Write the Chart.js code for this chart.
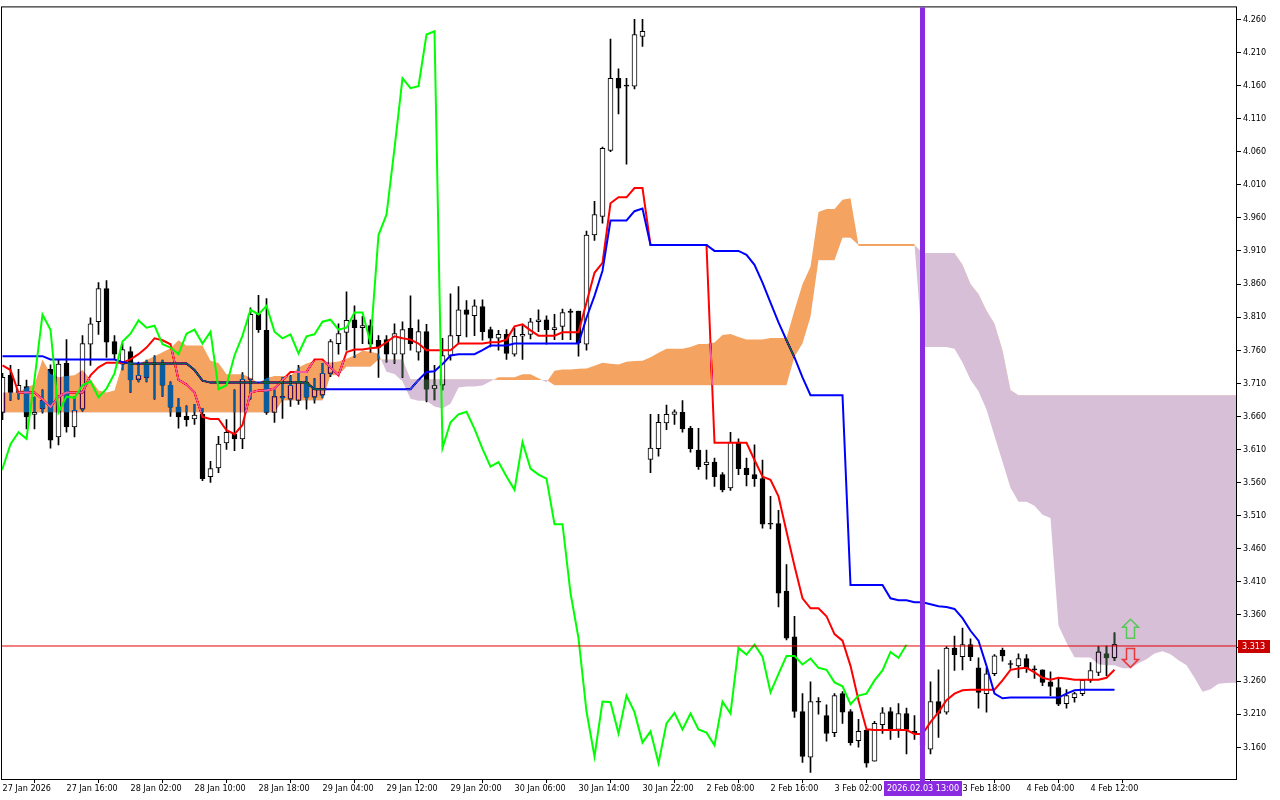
<!DOCTYPE html>
<html>
<head>
<meta charset="utf-8">
<title>NG H2 Ichimoku</title>
<script src="https://cdn.jsdelivr.net/npm/chart.js@4.4.1/dist/chart.umd.min.js"></script>
<style>
  html, body { margin: 0; padding: 0; background: #fff; }
  #wrap { width: 1280px; height: 800px; }
</style>
</head>
<body>
<div id="wrap"><canvas id="myChart" width="1280" height="800"></canvas></div>
<script>
// time axis labels (one every 8 bars)
const timeLabels = ["27 Jan 2026", "27 Jan 16:00", "28 Jan 02:00", "28 Jan 10:00", "28 Jan 18:00",
  "29 Jan 04:00", "29 Jan 12:00", "29 Jan 20:00", "30 Jan 06:00", "30 Jan 14:00", "30 Jan 22:00",
  "2 Feb 08:00", "2 Feb 16:00", "3 Feb 02:00", "3 Feb 10:00", "3 Feb 18:00", "4 Feb 04:00", "4 Feb 12:00"];
const timeLabelBars = [0, 8, 16, 24, 32, 40, 48, 56, 64, 72, 80, 88, 96, 104, 112, 120, 128, 136];

const priceTicks = [3.160, 3.210, 3.260, 3.310, 3.360, 3.410, 3.460, 3.510, 3.560, 3.610, 3.660, 3.710,
  3.760, 3.810, 3.860, 3.910, 3.960, 4.010, 4.060, 4.110, 4.160, 4.210, 4.260];

const opens = [3.666,3.722,3.696,3.705,3.663,3.684,3.731,3.629,3.740,3.644,
  3.671,3.769,3.803,3.853,3.773,3.739,3.758,3.716,3.739,3.738,
  3.739,3.707,3.674,3.660,3.656,3.663,3.569,3.582,3.620,3.633,
  3.626,3.716,3.814,3.790,3.666,3.690,3.686,3.684,3.711,3.689,
  3.692,3.725,3.770,3.787,3.806,3.794,3.797,3.775,3.776,3.754,
  3.754,3.793,3.757,3.788,3.702,3.707,3.752,3.782,3.821,3.812,
  3.826,3.791,3.778,3.784,3.754,3.781,3.784,3.803,3.806,3.791,
  3.796,3.819,3.819,3.769,3.934,3.962,4.062,4.171,4.160,4.159,
  4.234,3.595,3.611,3.650,3.663,3.666,3.642,3.609,3.587,3.591,
  3.572,3.552,3.621,3.582,3.572,3.566,3.498,3.498,3.396,3.327,
  3.214,3.145,3.229,3.208,3.182,3.241,3.214,3.170,3.186,3.139,
  3.194,3.214,3.187,3.211,3.184,3.182,3.157,3.229,3.213,3.310,
  3.297,3.315,3.280,3.241,3.271,3.307,3.286,3.283,3.294,3.278,
  3.277,3.259,3.250,3.226,3.235,3.241,3.261,3.273,3.301,3.295];
const highs = [3.725,3.737,3.731,3.715,3.689,3.700,3.738,3.746,3.776,3.690,
  3.782,3.809,3.862,3.865,3.782,3.770,3.765,3.742,3.745,3.752,
  3.745,3.712,3.687,3.676,3.678,3.672,3.592,3.630,3.655,3.700,
  3.726,3.824,3.843,3.838,3.700,3.719,3.722,3.737,3.720,3.717,
  3.740,3.776,3.800,3.848,3.827,3.811,3.806,3.782,3.782,3.800,
  3.803,3.842,3.806,3.799,3.737,3.778,3.845,3.856,3.835,3.836,
  3.836,3.795,3.790,3.791,3.793,3.799,3.808,3.821,3.812,3.814,
  3.822,3.822,3.819,3.940,3.985,4.067,4.230,4.185,4.171,4.260,
  4.260,3.663,3.663,3.677,3.670,3.684,3.645,3.642,3.609,3.597,
  3.575,3.636,3.626,3.597,3.617,3.594,3.539,3.518,3.436,3.358,
  3.241,3.259,3.235,3.224,3.241,3.244,3.217,3.202,3.186,3.199,
  3.220,3.220,3.226,3.219,3.208,3.200,3.259,3.277,3.312,3.328,
  3.340,3.324,3.295,3.280,3.300,3.310,3.291,3.301,3.300,3.283,
  3.277,3.274,3.265,3.247,3.243,3.262,3.288,3.312,3.313,3.333];
const lows = [3.655,3.684,3.686,3.641,3.641,3.665,3.612,3.617,3.636,3.629,
  3.668,3.737,3.784,3.749,3.746,3.730,3.696,3.712,3.712,3.686,
  3.690,3.660,3.642,3.645,3.648,3.563,3.560,3.575,3.610,3.608,
  3.611,3.686,3.787,3.663,3.651,3.657,3.675,3.678,3.671,3.680,
  3.688,3.720,3.754,3.760,3.749,3.770,3.757,3.719,3.742,3.740,
  3.719,3.760,3.745,3.682,3.685,3.700,3.745,3.770,3.780,3.782,
  3.775,3.765,3.760,3.746,3.751,3.746,3.777,3.788,3.769,3.776,
  3.776,3.776,3.751,3.760,3.926,3.952,4.060,4.117,4.041,4.155,
  4.219,3.575,3.600,3.640,3.648,3.636,3.606,3.580,3.565,3.554,
  3.546,3.548,3.572,3.555,3.554,3.491,3.490,3.372,3.322,3.205,
  3.137,3.122,3.210,3.169,3.176,3.196,3.163,3.160,3.130,3.139,
  3.181,3.172,3.175,3.150,3.172,3.145,3.150,3.175,3.210,3.276,
  3.277,3.291,3.219,3.213,3.268,3.290,3.279,3.265,3.273,3.264,
  3.253,3.238,3.223,3.219,3.228,3.238,3.258,3.268,3.268,3.291];
const closes = [3.719,3.696,3.707,3.659,3.666,3.672,3.624,3.739,3.644,3.669,
  3.770,3.800,3.853,3.772,3.754,3.761,3.715,3.722,3.719,3.740,
  3.707,3.674,3.659,3.655,3.662,3.566,3.581,3.618,3.636,3.626,
  3.716,3.814,3.791,3.666,3.690,3.688,3.707,3.713,3.689,3.702,
  3.725,3.773,3.785,3.805,3.794,3.797,3.769,3.764,3.754,3.785,
  3.791,3.770,3.788,3.701,3.707,3.752,3.782,3.821,3.814,3.827,
  3.788,3.778,3.784,3.755,3.781,3.784,3.803,3.806,3.791,3.794,
  3.817,3.817,3.771,3.934,3.965,4.065,4.171,4.156,4.159,4.237,
  4.242,3.612,3.651,3.663,3.667,3.641,3.611,3.584,3.591,3.569,
  3.549,3.621,3.581,3.572,3.566,3.497,3.497,3.393,3.325,3.214,
  3.146,3.229,3.228,3.181,3.238,3.213,3.167,3.184,3.136,3.196,
  3.212,3.187,3.211,3.187,3.182,3.163,3.229,3.211,3.310,3.300,
  3.315,3.297,3.243,3.271,3.298,3.298,3.285,3.294,3.280,3.277,
  3.258,3.252,3.225,3.238,3.241,3.261,3.276,3.304,3.295,3.315];

// ichimoku lines
const tenkan = [3.737,3.730,3.696,3.696,3.696,3.686,3.674,3.690,3.696,3.696,
  3.696,3.722,3.734,3.741,3.741,3.741,3.746,3.754,3.764,3.778,
  3.775,3.769,3.715,3.708,3.696,3.659,3.656,3.656,3.639,3.633,
  3.647,3.696,3.699,3.699,3.702,3.715,3.727,3.727,3.727,3.746,
  3.746,3.734,3.722,3.757,3.761,3.761,3.763,3.764,3.772,3.781,
  3.778,3.776,3.770,3.760,3.760,3.760,3.760,3.770,3.770,3.770,
  3.770,3.772,3.772,3.776,3.796,3.799,3.790,3.782,3.782,3.782,
  3.787,3.787,3.787,3.832,3.877,3.892,3.982,3.991,3.991,4.005,
  4.005,3.919,3.919,3.919,3.919,3.919,3.919,3.919,3.919,3.620,
  3.620,3.620,3.620,3.620,3.594,3.569,3.564,3.539,3.486,3.434,
  3.385,3.370,3.370,3.358,3.331,3.321,3.283,3.231,3.187,3.186,
  3.186,3.186,3.186,3.186,3.180,3.180,3.198,3.213,3.231,3.241,
  3.246,3.247,3.247,3.247,3.247,3.261,3.277,3.279,3.280,3.273,
  3.265,3.262,3.265,3.264,3.262,3.262,3.262,3.262,3.265,3.277];
const kijun = [3.751,3.751,3.751,3.751,3.751,3.751,3.746,3.746,3.746,3.746,
  3.746,3.746,3.746,3.746,3.746,3.742,3.740,3.740,3.740,3.740,
  3.740,3.740,3.740,3.740,3.730,3.714,3.711,3.711,3.711,3.711,
  3.711,3.711,3.711,3.711,3.711,3.711,3.711,3.711,3.711,3.701,
  3.701,3.701,3.701,3.701,3.701,3.701,3.701,3.701,3.701,3.701,
  3.701,3.701,3.715,3.727,3.728,3.739,3.752,3.754,3.754,3.754,
  3.760,3.767,3.767,3.767,3.770,3.770,3.770,3.770,3.770,3.770,
  3.770,3.770,3.770,3.809,3.842,3.880,3.956,3.956,3.956,3.970,
  3.974,3.919,3.919,3.919,3.919,3.919,3.919,3.919,3.919,3.910,
  3.910,3.910,3.910,3.904,3.889,3.862,3.832,3.802,3.775,3.749,
  3.719,3.692,3.692,3.692,3.692,3.692,3.405,3.405,3.405,3.405,
  3.405,3.385,3.382,3.382,3.379,3.379,3.376,3.373,3.372,3.369,
  3.355,3.336,3.321,3.283,3.241,3.234,3.235,3.235,3.235,3.235,
  3.235,3.235,3.235,3.241,3.246,3.247,3.247,3.247,3.247,3.247];
const spanA = [3.696,3.696,3.696,3.704,3.708,3.746,3.724,3.719,3.721,3.722,
  3.730,3.716,3.699,3.696,3.699,3.739,3.742,3.739,3.745,3.751,
  3.757,3.763,3.775,3.767,3.767,3.767,3.744,3.7405,3.7235,3.7235,
  3.7235,3.7185,3.710,3.718,3.721,3.721,3.721,3.734,3.740,3.7435,
  3.7435,3.7415,3.743,3.747,3.752,3.759,3.7575,3.7545,3.7275,3.724,
  3.713,3.6865,3.6835,3.6835,3.675,3.672,3.679,3.7035,3.705,3.705,
  3.7065,3.713,3.719,3.719,3.719,3.7235,3.7235,3.7175,3.7115,3.729,
  3.731,3.731,3.732,3.7325,3.7365,3.741,3.7395,3.7385,3.7425,3.7435,
  3.744,3.7495,3.756,3.762,3.762,3.762,3.765,3.7695,3.7695,3.7715,
  3.783,3.7845,3.780,3.776,3.776,3.776,3.7785,3.7785,3.7785,3.8205,
  3.8595,3.886,3.969,3.9735,3.9735,3.9875,3.9895,3.919,3.919,3.919,
  3.919,3.919,3.919,3.919,3.919,3.765,3.765,3.765,3.765,3.762,
  3.7415,3.7155,3.698,3.6705,3.6305,3.5915,3.552,3.531,3.531,3.525,
  3.5115,3.5065,3.344,3.318,3.296,3.2955,3.2955,3.2855,3.284,3.284,
  3.2795,3.2795,3.287,3.293,3.3015,3.305,3.3005,3.2915,3.284,3.265,
  3.244,3.2475,3.256,3.257,3.2575,3.254];
const spanB = [3.666,3.666,3.666,3.666,3.666,3.666,3.666,3.666,3.666,3.666,
  3.666,3.666,3.666,3.666,3.666,3.666,3.666,3.666,3.666,3.666,
  3.666,3.666,3.666,3.666,3.666,3.666,3.666,3.666,3.666,3.666,
  3.666,3.666,3.666,3.666,3.666,3.684,3.684,3.684,3.684,3.684,
  3.684,3.722,3.722,3.735,3.735,3.735,3.735,3.746,3.746,3.746,
  3.746,3.716,3.716,3.716,3.716,3.716,3.716,3.716,3.716,3.716,
  3.716,3.716,3.715,3.715,3.715,3.715,3.715,3.715,3.715,3.707,
  3.707,3.707,3.707,3.707,3.707,3.707,3.707,3.707,3.707,3.707,
  3.707,3.707,3.707,3.707,3.707,3.707,3.707,3.707,3.707,3.707,
  3.707,3.707,3.707,3.707,3.707,3.707,3.707,3.707,3.707,3.750,
  3.770,3.810,3.896,3.896,3.896,3.930,3.930,3.919,3.919,3.919,
  3.919,3.919,3.919,3.919,3.919,3.907,3.907,3.907,3.907,3.907,
  3.889,3.860,3.845,3.820,3.800,3.760,3.700,3.692,3.692,3.692,
  3.692,3.692,3.692,3.692,3.692,3.692,3.692,3.692,3.692,3.692,
  3.692,3.692,3.692,3.692,3.692,3.692,3.692,3.692,3.692,3.692,
  3.692,3.692,3.692,3.692,3.692,3.692];
const chikouShift = 26;

const bidPrice = 3.313;
const markerBar = 115;
const markerLabel = "2026.02.03 13:00";
const arrowBar = 141;
const arrowUpPrice = 3.339;
const arrowDownPrice = 3.295;

const xMin = -0.0625, xMax = 154.1875;
const yMin = 3.112, yMax = 4.278;
const axisFont = "'DejaVu Sans Condensed', 'DejaVu Sans', sans-serif";

// cloud colours are given inverted and drawn with 'difference' so that
// candles and lines under the cloud show through like in the terminal
const cloudUp = '#0B5B9F';   // -> sandybrown
const cloudDown = '#274027'; // -> thistle

function xy(arr) {
    return arr.map((v, i) => ({ x: i, y: v }));
}

function drawArrow(ctx, cx, cy, up, color) {
    const pts = [[0, -9.5], [8, -1.5], [4, -1.5], [4, 9.5], [-4, 9.5], [-4, -1.5], [-8, -1.5]];
    ctx.beginPath();
    pts.forEach((p, k) => {
        const yy = up ? cy + p[1] : cy - p[1];
        if (k === 0) ctx.moveTo(cx + p[0], yy); else ctx.lineTo(cx + p[0], yy);
    });
    ctx.closePath();
    ctx.lineWidth = 1.5;
    ctx.strokeStyle = color;
    ctx.stroke();
}

const terminalLook = {
    id: 'terminalLook',
    beforeDraw(chart) {
        const ctx = chart.ctx;
        ctx.save();
        ctx.fillStyle = '#ffffff';
        ctx.fillRect(0, 0, chart.width, chart.height);
        ctx.restore();
    },
    afterDatasetDraw(chart, args) {
        const name = chart.data.datasets[args.index].label;
        if (name === 'Kijun') chart.ctx.globalCompositeOperation = 'difference';
        if (name === 'SpanA') chart.ctx.globalCompositeOperation = 'source-over';
    },
    afterDraw(chart) {
        const ctx = chart.ctx;
        const a = chart.chartArea;
        const xs = chart.scales.x, ys = chart.scales.y;
        ctx.save();
        ctx.globalCompositeOperation = 'source-over';

        // frame
        ctx.strokeStyle = '#000';
        ctx.lineWidth = 1;
        ctx.strokeRect(a.left - 0.5, a.top - 0.5, a.right - a.left + 1, a.bottom - a.top + 1);

        // vertical marker line + its time label
        const mx = Math.round(xs.getPixelForValue(markerBar));
        ctx.fillStyle = '#8A2BE2';
        ctx.fillRect(mx - 3, a.top, 5, a.bottom - a.top + 3);
        ctx.font = '9px ' + axisFont;
        const tw = Math.round(ctx.measureText(markerLabel).width) + 6;
        ctx.fillRect(mx - Math.round(tw / 2), a.bottom + 2, tw, 15);
        ctx.fillStyle = '#fff';
        ctx.textAlign = 'center';
        ctx.textBaseline = 'middle';
        ctx.fillText(markerLabel, mx, a.bottom + 10);

        // current price tag
        const py = Math.round(ys.getPixelForValue(bidPrice));
        ctx.fillStyle = '#C80000';
        ctx.fillRect(a.right + 2, py - 6, 32, 13);
        ctx.fillStyle = '#fff';
        ctx.textAlign = 'left';
        ctx.fillText(bidPrice.toFixed(3), a.right + 6, py + 1);

        // signal arrows
        const ax = xs.getPixelForValue(arrowBar);
        drawArrow(ctx, ax, ys.getPixelForValue(arrowUpPrice), true, '#55C855');
        drawArrow(ctx, ax, ys.getPixelForValue(arrowDownPrice), false, '#E8383A');
        ctx.restore();
    }
};

function sameSpan(i) {
    return Math.abs(spanA[i] - spanB[i]) < 0.0005;
}

const ctx = document.getElementById('myChart');
new Chart(ctx, {
    type: 'line',
    data: {
        datasets: [
            {
                label: 'Wicks', type: 'bar',
                data: highs.map((h, i) => ({ x: i, y: [lows[i], h] })),
                backgroundColor: '#000', barThickness: 1, grouped: false, minBarLength: 1, order: 8
            },
            {
                label: 'Bodies', type: 'bar',
                data: opens.map((o, i) => ({ x: i, y: [o, closes[i]] })),
                backgroundColor: opens.map((o, i) => closes[i] > o ? '#ffffff' : '#000000'),
                borderColor: '#000', borderWidth: 1, borderSkipped: false,
                barThickness: 5, grouped: false, minBarLength: 1, order: 7
            },
            {
                label: 'Tenkan', data: xy(tenkan),
                borderColor: '#FF0000', borderWidth: 2, pointRadius: 0, tension: 0, order: 6
            },
            {
                label: 'Kijun', data: xy(kijun),
                borderColor: '#0000FF', borderWidth: 2, pointRadius: 0, tension: 0, order: 5
            },
            {
                label: 'SpanB', data: xy(spanB),
                borderWidth: 0, pointRadius: 0, tension: 0, fill: false, order: 4
            },
            {
                label: 'SpanA', data: xy(spanA),
                borderWidth: 2, pointRadius: 0, tension: 0, order: 3,
                fill: { target: 4, above: cloudUp, below: cloudDown },
                segment: {
                    borderColor: c => (sameSpan(c.p0DataIndex) && sameSpan(c.p1DataIndex)) ? cloudUp : 'rgba(0,0,0,0)'
                }
            },
            {
                label: 'Chikou', data: closes.map((c, i) => ({ x: i - chikouShift, y: c })),
                borderColor: '#00FF00', borderWidth: 2, pointRadius: 0, tension: 0, order: 2
            },
            {
                label: 'Bid', data: [{ x: xMin - 1, y: bidPrice }, { x: xMax + 1, y: bidPrice }],
                borderColor: '#E00000', borderWidth: 1, pointRadius: 0, order: 1
            }
        ]
    },
    options: {
        responsive: false,
        animation: false,
        events: [],
        layout: { padding: { left: 2, top: 3, right: 0, bottom: 0 } },
        plugins: {
            legend: { display: false },
            tooltip: { enabled: false }
        },
        scales: {
            x: {
                type: 'linear', min: xMin, max: xMax, offset: false,
                afterBuildTicks: s => { s.ticks = timeLabelBars.map(v => ({ value: v })); },
                afterFit: s => { s.height = 21; },
                ticks: {
                    autoSkip: false, maxRotation: 0, minRotation: 0, align: 'start',
                    padding: 0, color: '#000', font: { family: axisFont, size: 9 },
                    callback: v => {
                        const k = timeLabelBars.indexOf(v);
                        return k >= 0 ? timeLabels[k] : '';
                    }
                },
                grid: { drawOnChartArea: false, drawTicks: true, tickLength: 4, color: '#000' },
                border: { display: false }
            },
            y: {
                position: 'right', min: yMin, max: yMax,
                afterBuildTicks: s => { s.ticks = priceTicks.map(v => ({ value: v })); },
                afterFit: s => { s.width = 44; },
                ticks: {
                    padding: 2, color: '#000', font: { family: axisFont, size: 9 },
                    callback: v => Number(v).toFixed(3)
                },
                grid: { drawOnChartArea: false, drawTicks: true, tickLength: 5, color: '#000' },
                border: { display: false }
            }
        }
    },
    plugins: [terminalLook]
});
</script>
</body>
</html>
